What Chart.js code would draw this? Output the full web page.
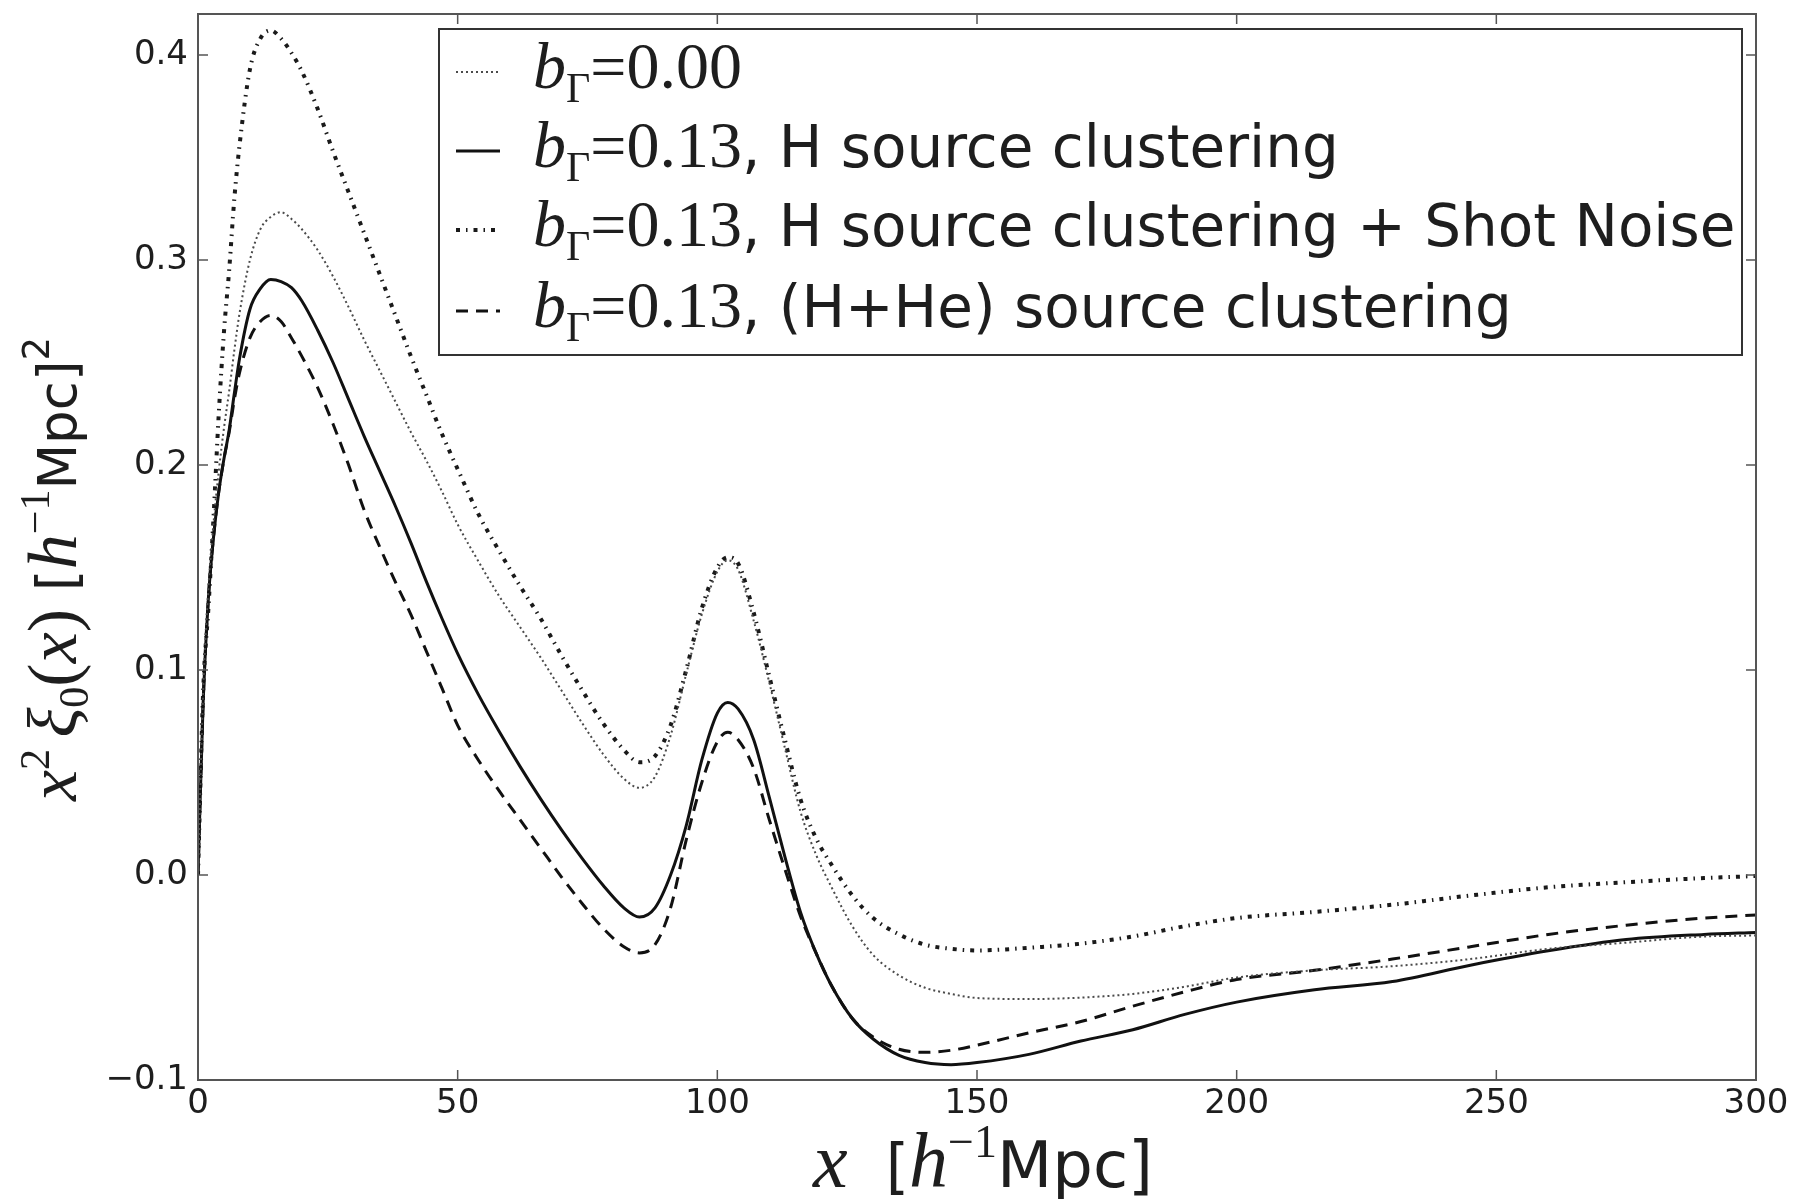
<!DOCTYPE html>
<html>
<head>
<meta charset="utf-8">
<script src="https://cdn.jsdelivr.net/npm/chart.js@4.4.1/dist/chart.umd.min.js"></script>
<style>
  html, body { margin: 0; padding: 0; background: #fff; }
</style>
</head>
<body>
<canvas id="chart" width="1796" height="1199"></canvas>
<script>
// separation x in h^-1 Mpc
const xValues = [0, 1, 2, 3, 4, 5, 6, 7, 8, 10, 12, 14, 16, 18, 20, 23, 26, 29, 32, 35, 38, 41, 44, 47, 50,
  54, 58, 62, 66, 70, 74, 78, 82, 85, 88, 91, 94, 97, 100, 102, 104, 107, 110, 113, 116, 119, 122,
  126, 130, 135, 140, 145, 150, 160, 170, 180, 190, 200, 215, 230, 245, 260, 275, 290, 300];

// x^2 xi_0(x), b_Gamma = 0.00
const xiNoBias = [0, 0.09, 0.14, 0.172, 0.197, 0.218, 0.236, 0.256, 0.274, 0.300, 0.315, 0.321, 0.3233, 0.320, 0.315,
  0.305, 0.292, 0.277, 0.261, 0.246, 0.231, 0.216, 0.202, 0.187, 0.171,
  0.153, 0.136, 0.121, 0.106, 0.090, 0.074, 0.059, 0.047, 0.0425, 0.048, 0.068, 0.098, 0.127, 0.148,
  0.1535, 0.149, 0.124, 0.094, 0.062, 0.031, 0.010, -0.006, -0.025, -0.039, -0.049, -0.055, -0.058, -0.060,
  -0.0605, -0.0598, -0.058, -0.0545, -0.050, -0.0465, -0.0445, -0.041, -0.036, -0.033, -0.030, -0.0295];

// b_Gamma = 0.13, H source clustering
const xiH = [0, 0.085, 0.135, 0.165, 0.187, 0.203, 0.217, 0.235, 0.252, 0.276, 0.286, 0.2905, 0.2895, 0.2865, 0.280,
  0.266, 0.250, 0.232, 0.214, 0.197, 0.180, 0.162, 0.143, 0.125, 0.108,
  0.088, 0.070, 0.053, 0.037, 0.022, 0.008, -0.005, -0.016, -0.0205, -0.016, 0.000, 0.024, 0.056, 0.079,
  0.0842, 0.081, 0.066, 0.038, 0.009, -0.018, -0.038, -0.054, -0.070, -0.080, -0.088, -0.0915, -0.0925, -0.0915,
  -0.0875, -0.081, -0.0755, -0.068, -0.062, -0.056, -0.052, -0.044, -0.037, -0.0315, -0.029, -0.028];

// b_Gamma = 0.13, H source clustering + shot noise
const xiHShot = [0, 0.09, 0.13, 0.175, 0.225, 0.265, 0.295, 0.33, 0.356, 0.393, 0.408, 0.412, 0.408, 0.401, 0.392,
  0.374, 0.353, 0.333, 0.313, 0.293, 0.273, 0.253, 0.234, 0.215, 0.198,
  0.176, 0.158, 0.141, 0.125, 0.107, 0.090, 0.074, 0.061, 0.055, 0.058, 0.073, 0.100, 0.130, 0.150,
  0.155, 0.152, 0.128, 0.097, 0.066, 0.037, 0.018, 0.005, -0.010, -0.021, -0.029, -0.034, -0.036, -0.0368,
  -0.0355, -0.0335, -0.030, -0.025, -0.021, -0.018, -0.0145, -0.010, -0.006, -0.0035, -0.0015, -0.0005];

// b_Gamma = 0.13, (H+He) source clustering
const xiHHe = [0, 0.085, 0.135, 0.165, 0.187, 0.203, 0.216, 0.232, 0.245, 0.262, 0.270, 0.273, 0.270, 0.262, 0.253,
  0.238, 0.220, 0.200, 0.178, 0.160, 0.143, 0.127, 0.109, 0.091, 0.073,
  0.056, 0.041, 0.027, 0.013, -0.001, -0.014, -0.026, -0.035, -0.038, -0.034, -0.016, 0.017, 0.045, 0.065,
  0.0696, 0.066, 0.052, 0.027, 0.003, -0.020, -0.038, -0.054, -0.070, -0.079, -0.085, -0.0865, -0.0855, -0.083,
  -0.077, -0.0715, -0.064, -0.057, -0.051, -0.0465, -0.041, -0.035, -0.029, -0.0245, -0.021, -0.0195];

const xTicks = [0, 50, 100, 150, 200, 250, 300];
const yTicks = [-0.1, 0.0, 0.1, 0.2, 0.3, 0.4];

const biasValues = ['0.00', '0.13', '0.13', '0.13'];
const labelSuffixes = ['', ', H source clustering', ', H source clustering + Shot Noise', ', (H+He) source clustering'];

const SERIF = '"Liberation Serif", "DejaVu Serif", serif';
const SANS = '"DejaVu Sans", sans-serif';
const INK = '#1e1e1e';

const toPoints = (ys) => xValues.map((x, i) => ({ x, y: ys[i] }));

const lineStyle = (color, width, dash) => ({
  borderColor: color,
  borderWidth: width,
  borderDash: dash,
  pointRadius: 0,
  fill: false,
  cubicInterpolationMode: 'monotone',
});

const datasets = [
  { data: toPoints(xiNoBias), ...lineStyle('#4a4a4a', 2, [2, 3]) },
  { data: toPoints(xiH), ...lineStyle('#111', 3, []) },
  { data: toPoints(xiHShot), ...lineStyle('#1a1a1a', 4, [4, 6, 1.5, 6]) },
  { data: toPoints(xiHHe), ...lineStyle('#111', 3, [12, 8]) },
];

// draws a row of text pieces [text, font, dy]
function drawRich(ctx, parts, x, y, align) {
  let w = 0;
  parts.forEach((p) => { ctx.font = p[1]; w += ctx.measureText(p[0]).width; });
  let cx = align === 'center' ? x - w / 2 : x;
  parts.forEach((p) => {
    ctx.font = p[1];
    ctx.fillText(p[0], cx, y + (p[2] || 0));
    cx += ctx.measureText(p[0]).width;
  });
}

const decorations = {
  id: 'decorations',
  afterDraw(chart) {
    const { ctx, chartArea: a, scales } = chart;
    ctx.save();

    // frame + inward ticks on all sides
    ctx.strokeStyle = '#555';
    ctx.lineWidth = 2;
    ctx.setLineDash([]);
    ctx.strokeRect(a.left, a.top, a.right - a.left, a.bottom - a.top);
    ctx.lineWidth = 1.5;
    ctx.beginPath();
    xTicks.forEach((v) => {
      const px = scales.x.getPixelForValue(v);
      ctx.moveTo(px, a.bottom); ctx.lineTo(px, a.bottom - 10);
      ctx.moveTo(px, a.top); ctx.lineTo(px, a.top + 10);
    });
    yTicks.forEach((v) => {
      const py = scales.y.getPixelForValue(v);
      ctx.moveTo(a.left, py); ctx.lineTo(a.left + 10, py);
      ctx.moveTo(a.right, py); ctx.lineTo(a.right - 10, py);
    });
    ctx.stroke();

    // legend
    const box = { x: 439, y: 29, w: 1303, h: 326 };
    ctx.fillStyle = '#fff';
    ctx.fillRect(box.x, box.y, box.w, box.h);
    ctx.strokeStyle = '#333';
    ctx.lineWidth = 2;
    ctx.strokeRect(box.x, box.y, box.w, box.h);
    const rows = [66, 145, 224, 305];
    ctx.fillStyle = INK;
    ctx.textBaseline = 'alphabetic';
    ctx.textAlign = 'left';
    datasets.forEach((ds, i) => {
      const cy = rows[i];
      ctx.strokeStyle = ds.borderColor;
      ctx.lineWidth = ds.borderWidth;
      ctx.setLineDash(ds.borderDash);
      ctx.beginPath();
      ctx.moveTo(456, cy + 6);
      ctx.lineTo(500, cy + 6);
      ctx.stroke();
      ctx.setLineDash([]);
      drawRich(ctx, [
        ['b', `italic 66px ${SERIF}`],
        ['Γ', `42px ${SERIF}`, 14],
        ['=', `64px ${SERIF}`],
        [biasValues[i], `66px ${SERIF}`],
        [labelSuffixes[i], `58px ${SANS}`],
      ], 533, cy + 22, 'left');
    });

    // axis titles
    drawRich(ctx, [
      ['x', `italic 78px ${SERIF}`],
      ['  [', `60px ${SANS}`],
      ['h', `italic 78px ${SERIF}`],
      ['−1', `46px ${SERIF}`, -30],
      ['Mpc]', `64px ${SANS}`],
    ], (a.left + a.right) / 2 + 6, 1187, 'center');

    ctx.translate(50, (a.top + a.bottom) / 2 + 22);
    ctx.rotate(-Math.PI / 2);
    drawRich(ctx, [
      ['x', `italic 70px ${SERIF}`],
      ['2', `42px ${SERIF}`, -27],
      [' ', `36px ${SANS}`],
      ['ξ', `italic 70px ${SERIF}`],
      ['0', `42px ${SERIF}`, 12],
      ['(', `70px ${SERIF}`],
      ['x', `italic 70px ${SERIF}`],
      [')', `70px ${SERIF}`],
      [' [', `56px ${SANS}`],
      ['h', `italic 70px ${SERIF}`],
      ['−1', `42px ${SERIF}`, -27],
      ['Mpc]', `53px ${SANS}`],
      ['2', `37px ${SANS}`, -27],
    ], 0, 26, 'center');

    ctx.restore();
  },
};

const tickFont = { family: SANS, size: 34 };

const noPadding = (s) => {
  s.paddingTop = 0;
  s.paddingBottom = 0;
  s.paddingLeft = 0;
  s.paddingRight = 0;
};

new Chart(document.getElementById('chart'), {
  type: 'line',
  data: { datasets },
  options: {
    responsive: false,
    animation: false,
    devicePixelRatio: 1,
    layout: { padding: { top: 14, right: 40, left: 0, bottom: 0 } },
    plugins: { legend: { display: false }, tooltip: { enabled: false } },
    scales: {
      x: {
        type: 'linear',
        min: 0,
        max: 300,
        grid: { display: false, drawTicks: false },
        border: { display: false },
        ticks: { font: tickFont, color: INK, padding: 4, maxRotation: 0, autoSkip: false },
        afterBuildTicks: (s) => { s.ticks = xTicks.map((v) => ({ value: v })); },
        afterFit: (s) => { s.height = 119; noPadding(s); },
      },
      y: {
        type: 'linear',
        min: -0.1,
        max: 0.42,
        grid: { display: false, drawTicks: false },
        border: { display: false },
        ticks: {
          font: tickFont,
          color: INK,
          padding: 10,
          callback: (v) => v.toFixed(1).replace('-', '−'),
        },
        afterBuildTicks: (s) => { s.ticks = yTicks.map((v) => ({ value: v })); },
        afterFit: (s) => { s.width = 198; noPadding(s); },
      },
    },
  },
  plugins: [decorations],
});
</script>
</body>
</html>
